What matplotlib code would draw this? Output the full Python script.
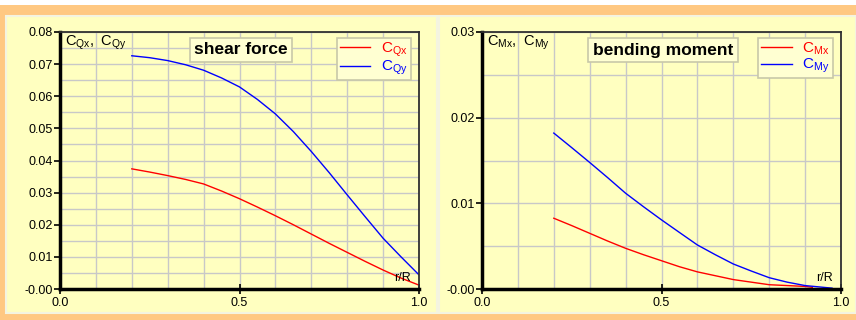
import matplotlib.pyplot as plt
from matplotlib.patches import Rectangle
from matplotlib.ticker import FixedLocator, FixedFormatter, MultipleLocator

plt.rcParams['font.family'] = ['Liberation Sans', 'DejaVu Sans']

# shear force (left panel)
r_q = [0.2, 0.25, 0.3, 0.35, 0.4, 0.45, 0.5, 0.55, 0.6, 0.65, 0.7, 0.75, 0.8, 0.85,
       0.9, 0.95, 1.0]
c_qx = [0.0374, 0.0364, 0.0353, 0.0341, 0.0327, 0.0305, 0.0281, 0.0255, 0.0228, 0.0200,
        0.0171, 0.0142, 0.0114, 0.0086, 0.0059, 0.0034, 0.0012]
c_qy = [0.0726, 0.0720, 0.0711, 0.0698, 0.0681, 0.0657, 0.0629, 0.0590, 0.0545, 0.0490,
        0.0428, 0.0362, 0.0293, 0.0225, 0.0158, 0.0100, 0.0044]

# bending moment (right panel)
r_mx = [0.2, 0.25, 0.3, 0.35, 0.4, 0.45, 0.5, 0.55, 0.6, 0.65, 0.7, 0.75, 0.8, 0.85,
        0.9, 0.92]
c_mx = [0.00826, 0.0074, 0.0065, 0.0056, 0.00475, 0.0040, 0.0033, 0.0026, 0.0020,
        0.00155, 0.0011, 0.0008, 0.0005, 0.0004, 0.0003, 0.0002]
r_my = [0.2, 0.25, 0.3, 0.35, 0.4, 0.45, 0.5, 0.55, 0.6, 0.65, 0.7, 0.75, 0.8, 0.85,
        0.9, 0.95, 0.975]
c_my = [0.0182, 0.0165, 0.01477, 0.0130, 0.01118, 0.0096, 0.00807, 0.0066, 0.00514,
        0.0040, 0.00292, 0.0021, 0.00132, 0.0008, 0.0004, 0.0002, 0.0001]

q_yticks = [0.0, 0.01, 0.02, 0.03, 0.04, 0.05, 0.06, 0.07, 0.08]
q_ylabels = ['-0.00', '0.01', '0.02', '0.03', '0.04', '0.05', '0.06', '0.07', '0.08']
m_yticks = [0.0, 0.01, 0.02, 0.03]
m_ylabels = ['-0.00', '0.01', '0.02', '0.03']
xticks = [0.0, 0.5, 1.0]
xlabels = ['0.0', '0.5', '1.0']

W, H = 856, 320
orange = '#FFC882'
yellow = '#FFFFC0'

fig = plt.figure(figsize=(W / 100, H / 100), dpi=100, facecolor=orange)


def px(x0, y0, x1, y1):
    # pixel box (top-left origin) -> figure fraction rect
    return [x0 / W, 1 - y1 / H, (x1 - x0) / W, (y1 - y0) / H]


# white strip on top and the two yellow panels (behind the axes)
fig.patches.append(Rectangle((0, 1 - 5 / H), 1, 5 / H, transform=fig.transFigure,
                             facecolor='white', edgecolor='none', zorder=-5))
for x0, x1 in [(6, 437), (439, 856)]:
    r = px(x0, 16, x1, 313)
    fig.patches.append(Rectangle((r[0], r[1]), r[2], r[3], transform=fig.transFigure,
                                 facecolor=yellow, edgecolor='#F4F4E0', linewidth=1.5,
                                 zorder=-5))


def setup(ax, yticks, ylabels, ymax, title, tx, ylab):
    ax.set_facecolor(yellow)
    ax.set_xlim(0, 1)
    ax.set_ylim(0, ymax)
    ax.xaxis.set_major_locator(FixedLocator(xticks))
    ax.xaxis.set_major_formatter(FixedFormatter(xlabels))
    ax.yaxis.set_major_locator(FixedLocator(yticks))
    ax.yaxis.set_major_formatter(FixedFormatter(ylabels))
    ax.xaxis.set_minor_locator(MultipleLocator(0.1))
    ax.yaxis.set_minor_locator(MultipleLocator(0.005))
    ax.grid(True, which='both', color='#C8C8C8', linewidth=1.0)
    ax.set_axisbelow(True)
    ax.tick_params(which='minor', length=0)
    ax.tick_params(axis='y', which='major', length=4, width=1.2, pad=1, labelsize=9)
    ax.tick_params(axis='x', which='major', direction='inout', length=7, width=1.2,
                   pad=2, labelsize=9)
    for s in ['left', 'bottom']:
        ax.spines[s].set_linewidth(2.5)
        ax.spines[s].set_color('black')
    for s in ['top', 'right']:
        ax.spines[s].set_linewidth(1.3)
        ax.spines[s].set_color('#303030')
    ax.text(0.014, 0.995, ylab, transform=ax.transAxes, ha='left', va='top', fontsize=10.5)
    ax.text(0.978, 0.02, 'r/R', transform=ax.transAxes, ha='right', va='bottom', fontsize=9)
    fig.text(tx / W, 1 - 50 / H, title, ha='center', va='center', fontsize=12.5,
             fontweight='bold', zorder=5,
             bbox=dict(boxstyle='square,pad=0.25', facecolor='#FFFFD2', edgecolor='#C8C8A8',
                       linewidth=1.2))
    leg = ax.legend(loc='upper right', bbox_to_anchor=(0.977, 0.978), fontsize=11,
                    frameon=True, fancybox=False, facecolor='#FFFFD2', edgecolor='#C8C8A8',
                    framealpha=1, handlelength=2.0, handletextpad=0.7,
                    borderpad=0.2, labelspacing=0.0, borderaxespad=0)
    leg.get_frame().set_linewidth(1.2)
    for t, ln in zip(leg.get_texts(), leg.get_lines()):
        t.set_color(ln.get_color())


ax1 = fig.add_axes(px(60, 32, 419, 289))
ax1.plot(r_q, c_qx, color='#FF0000', linewidth=1.0, label=r'$\mathregular{C_{Qx}}$')
ax1.plot(r_q, c_qy, color='#0000FF', linewidth=1.0, label=r'$\mathregular{C_{Qy}}$')
setup(ax1, q_yticks, q_ylabels, 0.08, 'shear force', 241,
      r'$\mathregular{C_{Qx},\ C_{Qy}}$')

ax2 = fig.add_axes(px(482, 32, 841, 289))
ax2.plot(r_mx, c_mx, color='#FF0000', linewidth=1.0, label=r'$\mathregular{C_{Mx}}$')
ax2.plot(r_my, c_my, color='#0000FF', linewidth=1.0, label=r'$\mathregular{C_{My}}$')
setup(ax2, m_yticks, m_ylabels, 0.03, 'bending moment', 663,
      r'$\mathregular{C_{Mx},\ C_{My}}$')

plt.savefig('out.png', dpi=100, facecolor=orange)
